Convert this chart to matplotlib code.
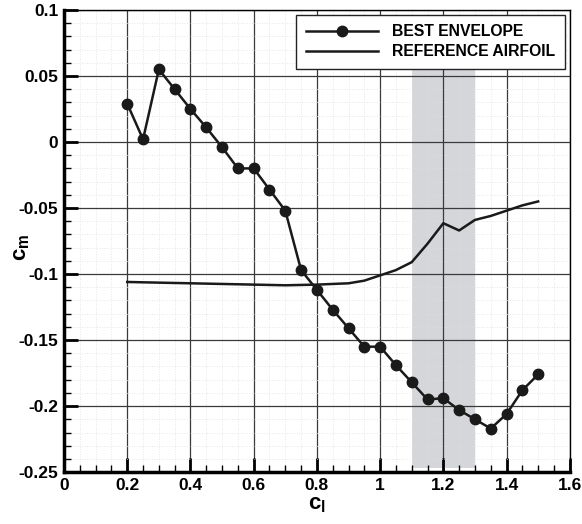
import numpy as np
import matplotlib.pyplot as plt
from matplotlib.ticker import MultipleLocator

plt.rcParams['font.family'] = ['Liberation Sans', 'DejaVu Sans']
plt.rcParams['font.weight'] = 'bold'
plt.rcParams['mathtext.fontset'] = 'custom'
plt.rcParams['mathtext.rm'] = 'Liberation Sans:bold'
plt.rcParams['mathtext.bf'] = 'Liberation Sans:bold'
plt.rcParams['mathtext.it'] = 'Liberation Sans:bold'
plt.rcParams['axes.unicode_minus'] = False

# best envelope, cm vs cl
cl_best = [0.20, 0.25, 0.30, 0.35, 0.40, 0.45, 0.50, 0.55, 0.60, 0.65, 0.70, 0.75, 0.80, 0.85,
           0.90, 0.95, 1.00, 1.05, 1.10, 1.15, 1.20, 1.25, 1.30, 1.35, 1.40, 1.45, 1.50]
cm_best = [0.029, 0.002, 0.055, 0.040, 0.025, 0.011, -0.004, -0.020, -0.020, -0.036, -0.052,
           -0.097, -0.112, -0.127, -0.141, -0.155, -0.155, -0.169, -0.182, -0.195, -0.194,
           -0.203, -0.210, -0.217, -0.206, -0.188, -0.176]

# reference airfoil
cl_ref = [0.20, 0.30, 0.40, 0.50, 0.60, 0.70, 0.80, 0.90, 0.95, 1.00, 1.05, 1.10, 1.15, 1.20,
          1.25, 1.30, 1.35, 1.40, 1.45, 1.50]
cm_ref = [-0.106, -0.1065, -0.107, -0.1075, -0.108, -0.1085, -0.108, -0.107, -0.105, -0.101,
          -0.097, -0.091, -0.077, -0.0615, -0.067, -0.059, -0.056, -0.052, -0.048, -0.045]

xticks = [0, 0.2, 0.4, 0.6, 0.8, 1.0, 1.2, 1.4, 1.6]
xlabels = ['0', '0.2', '0.4', '0.6', '0.8', '1', '1.2', '1.4', '1.6']
yticks = [-0.25, -0.2, -0.15, -0.1, -0.05, 0, 0.05, 0.1]
ylabels = ['-0.25', '-0.2', '-0.15', '-0.1', '-0.05', '0', '0.05', '0.1']

band_cl = (1.1, 1.3)
band_cm = (-0.247, 0.094)

fig = plt.figure(figsize=(5.82, 5.24), dpi=100)
ax = fig.add_axes([0.110, 0.099, 0.869, 0.882])

ax.fill_between(band_cl, band_cm[0], band_cm[1], color='#d5d6d9', lw=0, zorder=0.5)

ax.plot(cl_best, cm_best, color='#1a1a1a', lw=1.8, marker='o', ms=7.5,
        mfc='#1a1a1a', mec='#1a1a1a', label='BEST ENVELOPE', zorder=3)
ax.plot(cl_ref, cm_ref, color='#1a1a1a', lw=1.8, label='REFERENCE AIRFOIL', zorder=3)

ax.set_xlim(0, 1.6)
ax.set_ylim(-0.25, 0.1)
ax.set_xticks(xticks, xlabels, fontweight='bold', fontsize=12.5)
ax.set_yticks(yticks, ylabels, fontweight='bold', fontsize=12.5)
ax.xaxis.set_minor_locator(MultipleLocator(0.05))
ax.yaxis.set_minor_locator(MultipleLocator(0.01))

ax.grid(which='major', color='#3a3a3a', lw=0.9, zorder=1)
ax.grid(which='minor', color='#dedede', lw=0.6, ls=(0, (1, 2)), zorder=1)
ax.set_axisbelow(True)

ax.tick_params(which='major', direction='in', length=10, width=2, pad=4)
ax.tick_params(which='minor', direction='in', length=5, width=1)
ax.tick_params(top=False, right=False, which='both')

ax.spines['left'].set_linewidth(2.5)
ax.spines['bottom'].set_linewidth(2.5)
ax.spines['top'].set_linewidth(1)
ax.spines['right'].set_linewidth(1)

ax.set_xlabel(r'$\mathbf{c_l}$', fontsize=16, labelpad=1)
ax.set_ylabel(r'$\mathbf{c_m}$', fontsize=16)
ax.yaxis.set_label_coords(-0.063, 0.487)

leg = ax.legend(loc='upper right', bbox_to_anchor=(0.99, 0.989), borderaxespad=0,
                fancybox=False, edgecolor='#222222', framealpha=1, handlelength=4.6,
                borderpad=0.6, labelspacing=0.3, handletextpad=0.9,
                prop={'weight': 'bold', 'size': 11.3})
leg.get_frame().set_linewidth(1)

fig.savefig('out.png', dpi=100)
